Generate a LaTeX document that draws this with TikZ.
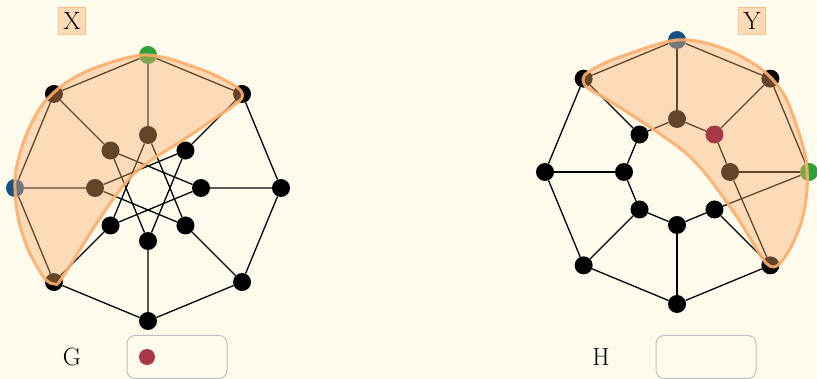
\documentclass[tikz,border=0pt]{standalone}
\usetikzlibrary{calc}
\definecolor{bgc}{RGB}{254,250,236}
\definecolor{hl}{RGB}{253,174,107}
\definecolor{vgreen}{RGB}{48,160,56}
\definecolor{vblue}{RGB}{24,82,132}
\definecolor{vred}{RGB}{168,56,72}
\definecolor{boxgray}{RGB}{192,192,192}
\pgfdeclarelayer{bg}
\pgfdeclarelayer{edges}
\pgfsetlayers{bg,edges,main}
\tikzset{
  c-go2/.style={fill=vgreen},
  c-go4/.style={fill=vblue},
  c-ho2/.style={fill=vblue},
  c-ho0/.style={fill=vgreen},
}
\begin{document}
\begin{tikzpicture}[x=1pt,y=-1pt,
  vtx/.style={circle,fill=black,minimum size=18pt,inner sep=0pt},
  edge/.style={line width=1.3pt,black},
  region/.style={fill=hl,fill opacity=0.4,draw=hl,draw opacity=0.9,line width=3pt,line join=round},
  tag/.style={fill=hl,fill opacity=0.4,text opacity=1,draw=hl,draw opacity=0.7,line width=1.3pt,
    font=\fontsize{25}{27}\selectfont,inner sep=0pt,minimum width=27pt,minimum height=27pt},
  legendbox/.style={draw=boxgray,fill=bgc,rounded corners=8pt,line width=1pt,minimum width=100pt,minimum height=43pt},
  gname/.style={font=\fontsize{25}{27}\selectfont}]
\useasboundingbox (0,0) rectangle (817,379);
\begin{pgfonlayer}{bg}
\fill[bgc] (0,0) rectangle (817,379);
\end{pgfonlayer}

% graph G
\foreach \i in {0,...,7}{
  \node[vtx,c-go\i/.try] (go\i) at ($(148,188)+(-\i*45:133)$) {};
  \node[vtx] (gi\i) at ($(148,188)+(-\i*45:53)$) {};
}
% graph H
\foreach \i in {0,...,7}{
  \node[vtx,c-ho\i/.try] (ho\i) at ($(677,172)+(-\i*45:132)$) {};
}
\foreach \i in {0,2,3,4,5,6,7}{
  \node[vtx] (hi\i) at ($(677,172)+(-\i*45:53)$) {};
}

% highlighted regions
\draw[region] plot[smooth cycle,tension=0.55] coordinates {
  (241,91) (230,83) (200,69) (148,55) (100,66) (67,82) (43,104) (27,133) (17,165) (15,188)
  (18,217) (27,247) (39,270) (47,281) (55,284) (62,278) (100,218) (128,180) (150,161)
  (183,140) (217,117) (234,105) (242,98)};
\draw[region] plot[smooth cycle,tension=0.55] coordinates {
  (584,76) (595,68) (620,57) (677,40) (722,48) (760,68) (783,93) (797,127) (806,160)
  (807,190) (802,220) (792,245) (782,261) (774,267) (766,263) (756,248) (737,217)
  (709,178) (687,154) (660,134) (630,114) (603,97) (592,91) (584,84)};

\node[vtx,fill=vred] (hi1) at ($(677,172)+(-45:53)$) {};

% edges
\begin{pgfonlayer}{edges}
\foreach \i [evaluate=\i as \j using {int(mod(\i+1,8))},
             evaluate=\i as \k using {int(mod(\i+3,8))}] in {0,...,7}{
  \draw[edge] (go\i) -- (go\j) (go\i) -- (gi\i) (gi\i) -- (gi\k);
  \draw[edge] (ho\i) -- (hi\i);
}
\draw[edge] (ho0) -- (ho1) -- (ho2) -- (ho3) -- (ho4) -- (ho5) -- (ho6) -- (ho7);
\draw[edge] (hi0) -- (hi1) -- (hi2) -- (hi3) -- (hi4) -- (hi5) -- (hi6) -- (hi7);
\draw[edge] (ho0) -- (hi7) (ho7) -- (hi0);
\end{pgfonlayer}

% tags
\node[tag] (xtag) at (72,21) {X};
\node[tag] (ytag) at (752,21) {Y};

% legend
\node[gname] (glabel) at (72,357) {G};
\node[legendbox] (gbox) at (177,357) {};
\node[circle,fill=vred,minimum size=16pt,inner sep=0pt] (gdot) at (147,357) {};
\node[gname] (hlabel) at (601,357) {H};
\node[legendbox] (hbox) at (706,357) {};
\end{tikzpicture}
\end{document}
